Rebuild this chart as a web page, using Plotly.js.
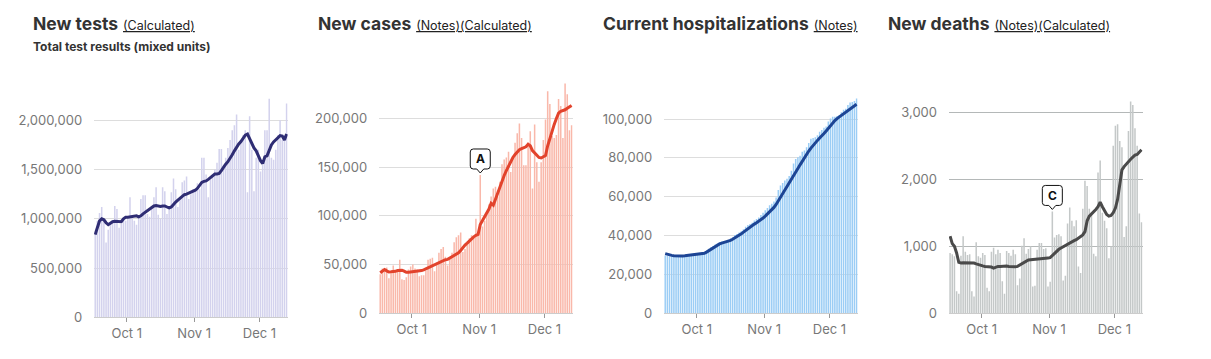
<!DOCTYPE html>
<html><head><meta charset="utf-8">
<script src="https://cdn.plot.ly/plotly-3.0.1.min.js"></script>
<style>html,body{margin:0;padding:0;background:#fff;}#chart{width:1211px;height:359px;}</style>
</head><body><div id="chart"></div>
<script>
// ---- data (daily values, Sep 16 – Dec 13, 2020) ----
const startDate = '2020-09-16';
const dayCount = 89;

const testsDaily = [
 850000,980000,1060000,1120000,990000,760000,890000,970000,980000,1130000,
 1100000,910000,950000,990000,980000,1000000,1220000,1020000,980000,940000,
 1020000,1200000,1240000,1240000,1050000,1020000,1100000,1220000,1320000,1040000,
 1000000,1320000,1280000,1050000,1120000,1270000,1410000,1300000,1120000,1200000,
 1370000,1390000,1430000,1200000,1250000,1300000,1300000,1360000,1300000,1620000,
 1620000,1450000,1220000,1400000,1450000,1500000,1570000,1710000,1710000,1550000,
 1620000,1720000,1800000,1900000,1950000,2060000,1700000,1780000,1850000,1900000,
 1270000,2040000,1700000,1280000,1620000,1700000,1480000,1550000,1900000,1900000,
 2220000,1620000,1600000,1700000,1850000,2000000,1800000,1850000,2170000];
const testsAvg = [
 840000,920000,980000,1000000,990000,960000,940000,955000,970000,975000,
 975000,970000,970000,1000000,1015000,1015000,1020000,1025000,1030000,1030000,
 1020000,1030000,1050000,1065000,1080000,1095000,1110000,1130000,1135000,1130000,
 1125000,1130000,1130000,1120000,1110000,1120000,1150000,1170000,1190000,1210000,
 1230000,1245000,1250000,1260000,1265000,1275000,1290000,1310000,1340000,1370000,
 1380000,1385000,1400000,1420000,1440000,1455000,1455000,1460000,1490000,1530000,
 1555000,1580000,1610000,1650000,1690000,1730000,1760000,1785000,1815000,1850000,
 1860000,1810000,1760000,1720000,1690000,1640000,1590000,1560000,1630000,1640000,
 1700000,1750000,1780000,1800000,1830000,1845000,1840000,1800000,1860000];

const casesDaily = [
 40000,46000,44000,47000,36000,41000,49000,43000,45000,55000,
 35000,34000,37000,45000,48000,50000,46000,45000,38000,39000,
 39000,44000,55000,56000,57000,43000,52000,62000,66000,68000,
 58000,49000,56000,62000,73000,78000,80000,83000,63000,66000,
 70000,77000,80000,79000,97000,82000,142000,89000,95000,104000,
 112000,120000,128000,130000,120000,135000,153000,158000,160000,166000,
 145000,160000,175000,185000,195000,180000,152000,152000,175000,187000,
 128000,194000,155000,135000,155000,178000,199000,228000,215000,182000,
 180000,183000,220000,213000,180000,236000,225000,188000,193000];
const casesAvg = [
 41500,43500,44900,43500,42300,42500,42500,43000,43800,44200,
 44200,43200,42000,42000,42300,42500,42600,42800,43200,43800,
 44600,45600,46800,48000,49000,50000,51200,52300,53300,54300,
 55000,55300,56500,57800,59000,60500,62000,64500,67500,70000,
 72000,74500,76500,78500,80000,81000,91000,95000,98000,102000,
 107000,113000,111000,117000,123000,130000,137000,141500,146500,151500,
 156000,160000,163000,166000,168000,169000,170000,171000,173500,172000,
 167000,165000,162000,160000,159500,160500,162000,172000,180000,188000,
 194000,200000,205500,207500,208000,209000,210500,212000,213500];

const hospDaily = [
 29800,29500,29400,29400,29300,29600,29500,29500,29400,29600,
 29900,30100,30000,30300,30600,30800,30600,30900,31200,32000,
 33200,34000,34600,35400,35900,36600,37000,37200,37100,37600,
 38400,39200,40300,40800,41600,42200,43300,44500,45400,45900,
 46600,47700,48500,49300,50600,51800,53000,54200,55600,56400,
 57500,59600,63400,65800,67000,68400,69300,70600,73400,77100,
 79400,80300,81100,83200,83800,85500,87700,89800,90200,90600,
 91600,93400,94400,95500,96100,98700,100200,101200,101200,101500,
 102000,103500,104700,105300,107200,108500,108700,109300,110500];
const hospAvg = [
 30700,30300,30000,29800,29600,29500,29500,29500,29500,29600,
 29700,29800,30000,30100,30300,30400,30600,30700,30900,31500,
 32200,33000,33800,34500,35200,35700,36100,36400,36700,37100,
 37500,38100,38700,39300,40000,40900,41800,42700,43500,44300,
 45000,45900,46600,47300,48200,49000,50000,51100,52100,53200,
 54500,56000,57800,59600,61200,63000,64900,66800,68500,70500,
 72600,74500,76400,78300,80100,81800,83500,85000,86500,87800,
 89000,90200,91200,92500,93800,95300,96700,98000,99200,100200,
 101000,101800,102600,103400,104300,105000,105800,106600,107600];

const deathsDaily = [
 900,880,850,330,290,860,1150,920,870,880,
 330,250,1060,850,830,900,870,380,330,920,
 980,880,950,900,480,290,930,900,860,950,
 880,420,520,1010,1120,890,960,1000,400,410,
 950,1050,1050,960,970,400,470,1520,1130,1170,
 1180,1150,490,560,1340,1580,1380,1300,1390,700,
 600,1560,1980,1900,1560,1500,890,850,2100,2280,
 1500,1380,1270,820,1000,2500,2800,2820,2570,2480,
 1140,1300,2720,3160,3110,2760,2500,1490,1360];
const deathsAvg = [
 1150,1040,1000,900,760,750,755,755,755,758,
 760,750,738,725,718,708,700,697,700,690,
 675,690,700,700,705,706,706,700,695,690,
 695,700,720,740,760,780,795,800,802,805,
 806,812,818,821,823,826,830,860,905,930,
 955,975,995,1012,1025,1045,1070,1085,1100,1120,
 1145,1170,1220,1380,1450,1480,1517,1550,1590,1657,
 1590,1530,1475,1450,1460,1500,1570,1700,1950,2140,
 2190,2230,2260,2300,2330,2360,2370,2400,2440];

const panelTitles = ['New tests','New cases','Current hospitalizations','New deaths'];
const panelNotes = ['(Calculated)','(Notes)(Calculated)','(Notes)','(Notes)(Calculated)'];
const subtitle = 'Total test results (mixed units)';
const yTickVals = [
 [0,500000,1000000,1500000,2000000],
 [0,50000,100000,150000,200000],
 [0,20000,40000,60000,80000,100000],
 [0,1000,2000,3000]];
const xTickVals = ['2020-10-01','2020-11-01','2020-12-01'];
const xTickText = ['Oct 1','Nov 1','Dec 1'];
const callouts = [
 {panel:1, label:'A', date:'2020-11-01', series:'cases'},
 {panel:3, label:'C', date:'2020-11-02', series:'deaths'}];

// ---- build dates (bar centers at noon) ----
function buildDates(){
  const out=[]; const base=new Date(startDate+'T12:00:00Z').getTime();
  for(let i=0;i<dayCount;i++){const d=new Date(base+i*86400000);out.push(d.toISOString().slice(0,10)+' 12:00');}
  return out;
}
const dates = buildDates();

// ---- styles ----
const W=1211,H=359;
const FONT='Inter, "Noto Sans", sans-serif';
const styles = [
 {bar:'#d3d2ed', line:'#2f2d74', left:94.1, bottom:317.3, top:95, yMax:2257000, grid:'#dddddd'},
 {bar:'#f9b8aa', line:'#e2432c', left:379.1, bottom:313.2, top:80, yMax:239600, grid:'#dddddd'},
 {bar:'#9bcdf5', line:'#1d4595', left:664.1, bottom:313.3, top:95, yMax:112350, grid:'#dddddd'},
 {bar:'#c4c8c8', line:'#4a4a4a', left:949.0, bottom:313.3, top:95, yMax:3258, grid:'#b4b8b8'}];
const plotW = 193.6;
const dailySeries=[testsDaily,casesDaily,hospDaily,deathsDaily];
const avgSeries=[testsAvg,casesAvg,hospAvg,deathsAvg];
const seriesIndex={tests:0,cases:1,hosp:2,deaths:3};

const traces=[]; const layout={
  width:W,height:H,margin:{l:0,r:0,t:0,b:0},showlegend:false,
  paper_bgcolor:'#fff',plot_bgcolor:'#fff',bargap:0.3,
  font:{family:FONT},annotations:[],shapes:[]};

styles.forEach((s,i)=>{
  const sfx = i===0?'':String(i+1);
  traces.push({type:'bar',x:dates,y:dailySeries[i],marker:{color:s.bar,line:{width:0}},xaxis:'x'+sfx,yaxis:'y'+sfx,hoverinfo:'skip'});
  traces.push({type:'scatter',mode:'lines',x:dates,y:avgSeries[i],line:{color:s.line,width:3},xaxis:'x'+sfx,yaxis:'y'+sfx,hoverinfo:'skip'});
  layout['xaxis'+sfx]={type:'date',domain:[s.left/W,(s.left+plotW)/W],range:['2020-09-16','2020-12-14'],
    anchor:'y'+sfx,tickvals:xTickVals,ticktext:xTickText,ticks:'outside',ticklen:4,tickcolor:'#999',tickwidth:1,
    showline:true,linecolor:'#cccccc',linewidth:1,showgrid:false,zeroline:false,
    tickfont:{family:FONT,size:13,color:'#777'},fixedrange:true};
  layout['yaxis'+sfx]={domain:[1-s.bottom/H,1-s.top/H],range:[0,s.yMax],anchor:'x'+sfx,
    tickvals:yTickVals[i],tickformat:',',showgrid:true,gridcolor:s.grid,gridwidth:1,zeroline:false,
    showline:false,ticks:'',ticklabelstandoff:11,tickfont:{family:FONT,size:13,color:'#777'},fixedrange:true};
  layout.annotations.push({xref:'paper',yref:'paper',x:(s.left-63)/W,y:1-23/H,xanchor:'left',yanchor:'middle',showarrow:false,
    text:'<b>'+panelTitles[i]+'</b> <span style="font-size:12.5px;color:#222"><u>'+panelNotes[i]+'</u></span>',
    font:{family:FONT,size:17.5,color:'#333'}});
});
layout.annotations.push({xref:'paper',yref:'paper',x:31/W,y:1-46/H,xanchor:'left',yanchor:'middle',showarrow:false,
  text:'<b>'+subtitle+'</b>',font:{family:FONT,size:12,color:'#333'}});

const calloutPath='M0,2 L3.5,6 L7,6 Q10,6 10,9 L10,23 Q10,26 7,26 L-7,26 Q-10,26 -10,23 L-10,9 Q-10,6 -7,6 L-3.5,6 Z';
callouts.forEach(c=>{
  const sfx=String(c.panel+1);
  const idx=dates.findIndex(d=>d.startsWith(c.date));
  const xv=dates[idx], yv=dailySeries[seriesIndex[c.series]][idx];
  layout.shapes.push({type:'path',xref:'x'+sfx,yref:'y'+sfx,xsizemode:'pixel',ysizemode:'pixel',xanchor:xv,yanchor:yv,
    path:calloutPath,fillcolor:'#fff',line:{color:'#111',width:1},layer:'above'});
  layout.annotations.push({xref:'x'+sfx,yref:'y'+sfx,x:xv,y:yv,yshift:16,xanchor:'center',yanchor:'middle',showarrow:false,
    text:'<b>'+c.label+'</b>',font:{family:FONT,size:12,color:'#111'}});
});

Plotly.newPlot('chart',traces,layout,{staticPlot:true,displayModeBar:false});
</script></body></html>
